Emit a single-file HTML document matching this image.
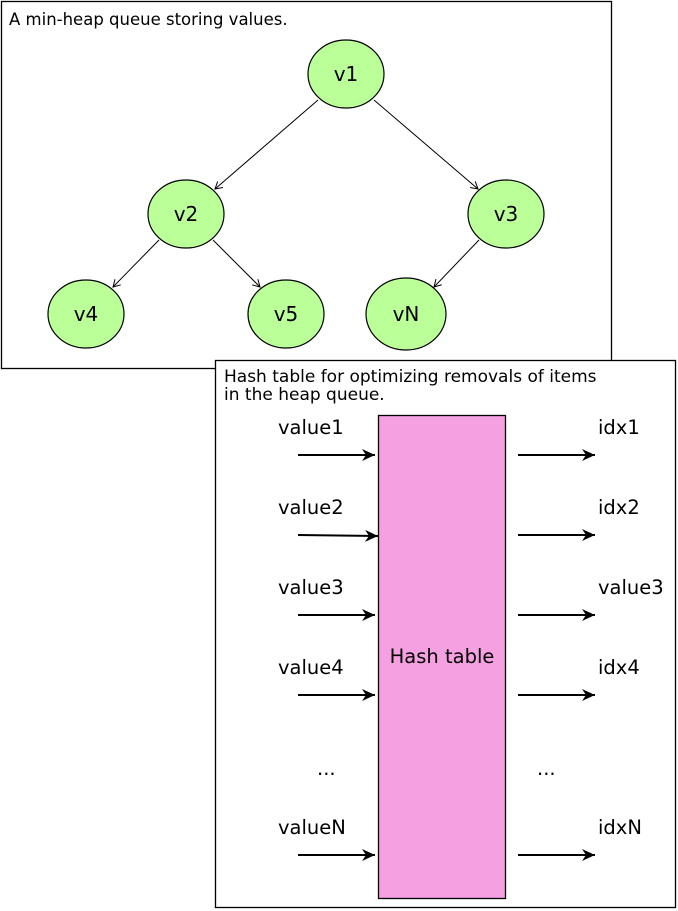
<!DOCTYPE html>
<html><head><meta charset="utf-8"><style>
html,body{margin:0;padding:0;background:#fff;}
svg{display:block;font-family:"DejaVu Sans","Liberation Sans",sans-serif;}
</style></head><body>
<svg width="678" height="911" viewBox="0 0 678 911" xmlns="http://www.w3.org/2000/svg">
<defs>
<marker id="a" markerWidth="10" markerHeight="10" refX="8" refY="5" orient="auto" markerUnits="userSpaceOnUse">
<path d="M1,1 L8,5 L1,9" fill="none" stroke="#000" stroke-width="1"/></marker>
<marker id="b" markerWidth="16" markerHeight="14" refX="14" refY="7" orient="auto" markerUnits="userSpaceOnUse">
<path d="M1,1 L14,7 L1,13 L5,7 Z" fill="#000"/></marker>
</defs>
<rect x="1.5" y="1.5" width="610" height="367" fill="#fff" stroke="#000" stroke-width="1.3"/>
<text x="9" y="25" font-size="16.5">A min-heap queue storing values.</text>
<g stroke="#000" stroke-width="1" fill="none">
<line x1="318" y1="100" x2="215" y2="189" marker-end="url(#a)"/>
<line x1="374" y1="100" x2="478" y2="189" marker-end="url(#a)"/>
<line x1="159" y1="240" x2="113" y2="287" marker-end="url(#a)"/>
<line x1="213" y1="240" x2="260" y2="287" marker-end="url(#a)"/>
<line x1="479" y1="240" x2="434" y2="287" marker-end="url(#a)"/>
</g>
<g fill="#bbff99" stroke="#000" stroke-width="1.2">
<ellipse cx="346" cy="74" rx="38" ry="34"/>
<ellipse cx="186" cy="214" rx="38" ry="34"/>
<ellipse cx="506" cy="214" rx="38" ry="34"/>
<ellipse cx="86" cy="314" rx="38" ry="34"/>
<ellipse cx="286" cy="314" rx="38" ry="34"/>
<ellipse cx="406" cy="314" rx="40" ry="36"/>
</g>
<g font-size="20" text-anchor="middle">
<text x="346" y="81">v1</text><text x="186" y="221">v2</text><text x="506" y="221">v3</text>
<text x="86" y="321">v4</text><text x="286" y="321">v5</text><text x="406" y="321">vN</text>
</g>
<rect x="215.5" y="360.5" width="460" height="547" fill="#fff" stroke="#000" stroke-width="1.3"/>
<text x="224" y="382" font-size="17">Hash table for optimizing removals of items</text>
<text x="224" y="400" font-size="17">in the heap queue.</text>
<rect x="378.5" y="415.5" width="127" height="483" fill="#f5a0e0" stroke="#000" stroke-width="1.3"/>
<text x="442" y="663" font-size="19.5" text-anchor="middle">Hash table</text>
<g stroke="#000" stroke-width="2">
<line x1="298" y1="455" x2="375" y2="455" marker-end="url(#b)"/>
<line x1="298" y1="535" x2="378" y2="536" marker-end="url(#b)"/>
<line x1="298" y1="615" x2="375" y2="615" marker-end="url(#b)"/>
<line x1="298" y1="695" x2="375" y2="695" marker-end="url(#b)"/>
<line x1="298" y1="855" x2="375" y2="855" marker-end="url(#b)"/>
<line x1="518" y1="455" x2="595" y2="455" marker-end="url(#b)"/>
<line x1="518" y1="535" x2="595" y2="535" marker-end="url(#b)"/>
<line x1="518" y1="615" x2="595" y2="615" marker-end="url(#b)"/>
<line x1="518" y1="695" x2="595" y2="695" marker-end="url(#b)"/>
<line x1="518" y1="855" x2="595" y2="855" marker-end="url(#b)"/>
</g>
<g font-size="19.5">
<text x="278" y="434">value1</text><text x="278" y="514">value2</text><text x="278" y="594">value3</text>
<text x="278" y="674">value4</text><text x="317" y="775">...</text><text x="278" y="834">valueN</text>
<text x="598" y="434">idx1</text><text x="598" y="514">idx2</text><text x="598" y="594">value3</text>
<text x="598" y="674">idx4</text><text x="537" y="775">...</text><text x="598" y="834">idxN</text>
</g>
</svg>
</body></html>
